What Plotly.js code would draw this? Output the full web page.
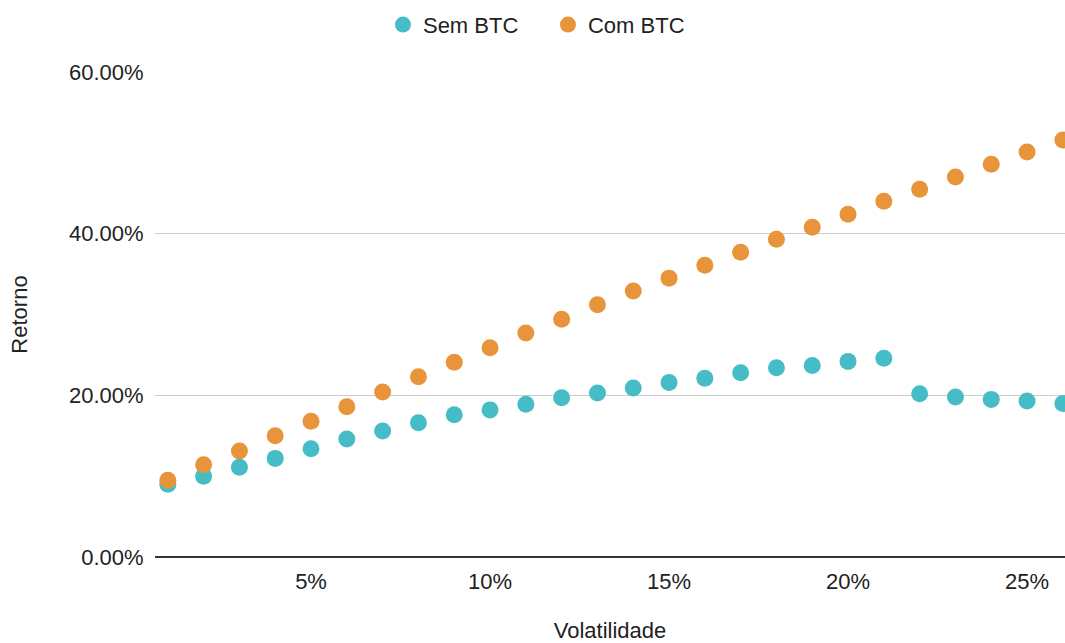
<!DOCTYPE html>
<html>
<head>
<meta charset="utf-8">
<script src="https://cdn.plot.ly/plotly-3.0.1.min.js"></script>
<style>html,body{margin:0;padding:0;background:#fff;}#chart{width:1065px;height:643px;}</style>
</head>
<body>
<div id="chart"></div>
<script>
const volatilidade = [0.01,0.02,0.03,0.04,0.05,0.06,0.07,0.08,0.09,0.10,0.11,0.12,0.13,0.14,0.15,0.16,0.17,0.18,0.19,0.20,0.21,0.22,0.23,0.24,0.25,0.26];
const semBTC = [0.090,0.100,0.111,0.122,0.134,0.146,0.156,0.166,0.176,0.182,0.189,0.197,0.203,0.209,0.216,0.221,0.228,0.234,0.237,0.242,0.246,0.202,0.198,0.195,0.193,0.190];
const comBTC = [0.095,0.114,0.131,0.150,0.168,0.186,0.204,0.223,0.241,0.259,0.277,0.294,0.312,0.329,0.345,0.361,0.377,0.393,0.408,0.424,0.440,0.455,0.470,0.486,0.501,0.516];
const xTickVals = [0.05,0.10,0.15,0.20,0.25];
const xTickText = ['5%','10%','15%','20%','25%'];
const yTickVals = [0,0.2,0.4,0.6];
const yTickText = ['0.00%','20.00%','40.00%','60.00%'];

const font = {family: 'Liberation Sans, Arial, sans-serif', size: 22, color: '#222'};

const traces = [
  {x: volatilidade, y: semBTC, name: 'Sem BTC', type: 'scatter', mode: 'markers',
   marker: {color: '#46BDC6', size: 17}, cliponaxis: false},
  {x: volatilidade, y: comBTC, name: 'Com BTC', type: 'scatter', mode: 'markers',
   marker: {color: '#E8943A', size: 17}, cliponaxis: false}
];

const layout = {
  width: 1065, height: 643,
  margin: {l: 155, r: 0, t: 72, b: 86},
  paper_bgcolor: '#fff', plot_bgcolor: '#fff',
  font: font,
  showlegend: true,
  legend: {orientation: 'h', x: 0.2505, xanchor: 'left', y: 1.054, yanchor: 'bottom',
           font: font, itemsizing: 'trace', traceorder: 'normal', entrywidth: 120},
  xaxis: {
    range: [0.00642, 0.2606], tickvals: xTickVals, ticktext: xTickText,
    showgrid: false, zeroline: false, showline: false,
    ticks: 'outside', ticklen: 5, tickcolor: 'rgba(0,0,0,0)',
    tickfont: font,
    title: {text: 'Volatilidade', font: font, standoff: 33}
  },
  yaxis: {
    range: [0, 0.6], tickvals: yTickVals, ticktext: yTickText,
    showgrid: true, gridcolor: '#cccccc', gridwidth: 1,
    zeroline: true, zerolinecolor: '#333333', zerolinewidth: 2,
    showline: false,
    ticks: 'outside', ticklen: 6, tickcolor: 'rgba(0,0,0,0)',
    tickfont: font,
    title: {text: 'Retorno', font: font, standoff: 35}
  }
};

Plotly.newPlot('chart', traces, layout, {displayModeBar: false, staticPlot: true});
</script>
</body>
</html>
